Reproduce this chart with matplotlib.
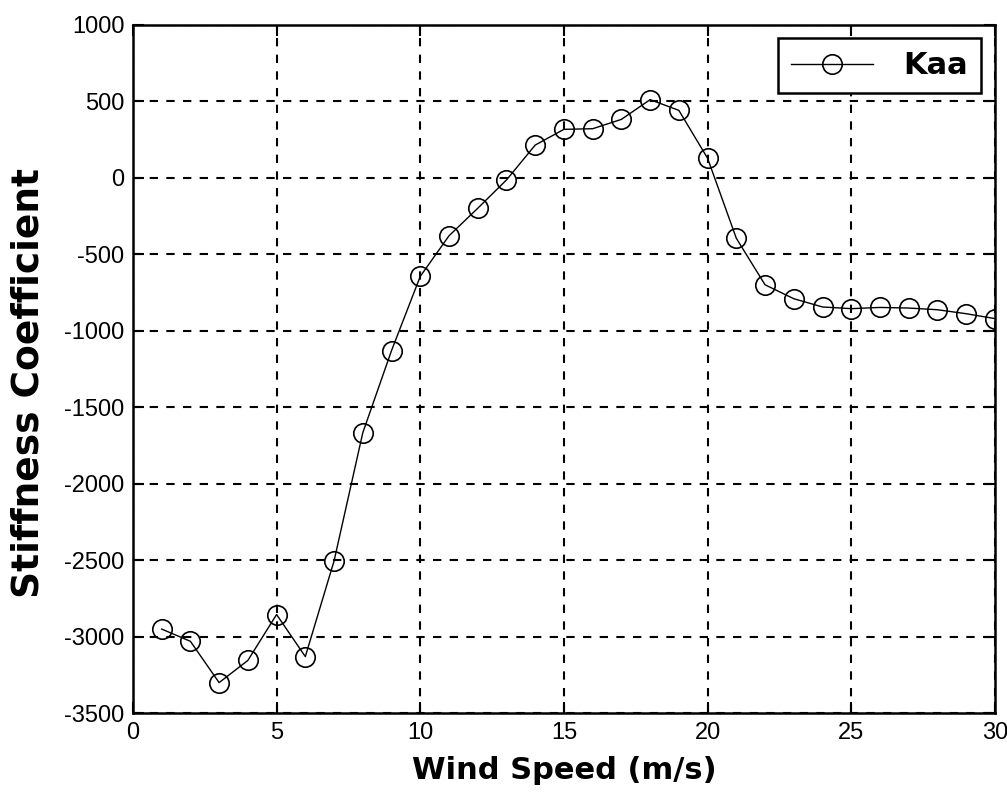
import matplotlib.pyplot as plt

plt.rcParams['font.family'] = ['Liberation Sans Narrow', 'Liberation Sans', 'DejaVu Sans']
plt.rcParams['axes.unicode_minus'] = False

# data
wind_speed = list(range(1, 31))
kaa = [-2950, -3030, -3300, -3155, -2855, -3130, -2505, -1667, -1130, -645,
       -380, -200, -15, 213, 316, 320, 381, 510, 440, 127,
       -396, -700, -791, -845, -856, -848, -852, -863, -889, -921]

x_ticks = [0, 5, 10, 15, 20, 25, 30]
y_ticks = [-3500, -3000, -2500, -2000, -1500, -1000, -500, 0, 500, 1000]

fig = plt.figure(figsize=(10.07, 7.96), dpi=100)
ax = fig.add_axes([0.132, 0.104, 0.856, 0.865])

ax.plot(wind_speed, kaa, color='black', linewidth=1.0, marker='o',
        markersize=14, markerfacecolor='none', markeredgecolor='black',
        markeredgewidth=1.2, label='Kaa')

ax.set_xlim(0, 30)
ax.set_ylim(-3500, 1000)
ax.set_xticks(x_ticks)
ax.set_yticks(y_ticks)
ax.tick_params(direction='in', length=8, width=1.5, labelsize=17,
               top=True, right=True, pad=6)
ax.grid(True, color='black', linestyle=(0, (4, 4)), linewidth=1.5)

for s in ax.spines.values():
    s.set_linewidth(1.8)

ax.set_xlabel('Wind Speed (m/s)', fontsize=22, fontweight='bold',
              family='DejaVu Sans', labelpad=9)
ax.set_ylabel('Stiffness Coefficient', fontsize=27, fontweight='bold',
              family='DejaVu Sans')
ax.yaxis.set_label_coords(-0.1, 0.48)

leg = ax.legend(loc='upper right', fancybox=False, framealpha=1,
                edgecolor='black', handlelength=2.7, handletextpad=1.0,
                borderpad=0.42, borderaxespad=0.45,
                prop={'family': 'DejaVu Sans', 'weight': 'bold', 'size': 22})
leg.get_frame().set_linewidth(1.8)

fig.savefig('out.png', dpi=100)
